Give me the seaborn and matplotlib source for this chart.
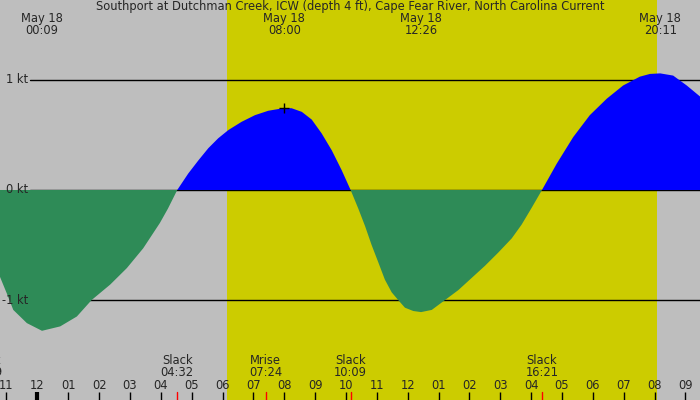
import matplotlib
matplotlib.use("Agg")
import matplotlib.pyplot as plt
import numpy as np
import pandas as pd
import seaborn as sns

# tidal current (hours after midnight May 18, knots)
flow_hours = [-1.21, -0.99, -0.78, -0.34, 0.15, 0.74, 1.28, 1.76, 2.36, 2.90, 3.43, 3.97, 4.23,
              4.533, 4.89, 5.22, 5.54, 5.86, 6.19, 6.62, 7.05, 7.48, 8.00, 8.24, 8.57, 8.89,
              9.21, 9.54, 9.86, 10.15, 10.40, 10.62, 10.83, 11.05, 11.26, 11.48, 11.69, 11.91,
              12.18, 12.433, 12.78, 13.21, 13.64, 14.07, 14.50, 14.93, 15.37, 15.69, 16.02,
              16.35, 16.83, 17.36, 17.90, 18.45, 18.98, 19.52, 19.85, 20.18, 20.60, 21.04, 21.47]
flow_knots = [-0.79, -0.94, -1.09, -1.21, -1.28, -1.24, -1.15, -1.00, -0.86, -0.71, -0.53, -0.30, -0.17,
              0.0, 0.15, 0.27, 0.38, 0.47, 0.545, 0.62, 0.68, 0.72, 0.745, 0.743, 0.71, 0.64,
              0.515, 0.36, 0.18, 0.0, -0.17, -0.33, -0.50, -0.66, -0.815, -0.93, -1.00, -1.07,
              -1.10, -1.11, -1.09, -1.00, -0.91, -0.80, -0.69, -0.57, -0.44, -0.315, -0.16,
              0.0, 0.24, 0.48, 0.68, 0.83, 0.95, 1.03, 1.055, 1.06, 1.04, 0.95, 0.85]

# max flood / ebb labels at the top
peak_hours = [0.15, 8.0, 12.433, 20.183]
peak_labels = ["00:09", "08:00", "12:26", "20:11"]

# slack / moonrise events at the bottom
event_hours = [-1.68, 4.533, 7.4, 10.15, 16.35]
event_names = ["Slack", "Slack", "Mrise", "Slack", "Slack"]
event_times = ["22:19", "04:32", "07:24", "10:09", "16:21"]

sunrise = 6.15
sunset = 20.07

hour_ticks = list(range(-1, 22))
kt_levels = [1, 0, -1]
kt_labels = ["1 kt", "0 kt", "-1 kt"]

xmin, xmax = -1.21, 21.47
ymin, ymax = -1.909, 1.727

df = pd.DataFrame({"hour": flow_hours, "knots": flow_knots})

sns.set_style("white")
plt.rcParams["font.family"] = ["DejaVu Sans"]
fs = 8.3

fig = plt.figure(figsize=(7, 4), dpi=100)
fig.patch.set_facecolor("#bebebe")
ax = fig.add_axes([0, 0, 1, 1])
ax.set_facecolor("#bebebe")
ax.set_xlim(xmin, xmax)
ax.set_ylim(ymin, ymax)
ax.axis("off")

# daylight band
ax.axvspan(sunrise, sunset, color="#cccc00", lw=0, zorder=0)

# knot reference lines
x_line = xmin + (xmax - xmin) * 30 / 700
for lev, lab in zip(kt_levels, kt_labels):
    ax.plot([x_line, xmax], [lev, lev], color="black", lw=1, zorder=1)
    ax.text(x_line - 0.06, lev, lab, ha="right", va="center", fontsize=fs, zorder=5)

# current fill
hrs = np.array(flow_hours)
kts = np.array(flow_knots)
ax.fill_between(hrs, kts, 0, where=kts >= 0, interpolate=True, color="#0000ff", lw=0, zorder=2)
ax.fill_between(hrs, kts, 0, where=kts <= 0, interpolate=True, color="#2e8b57", lw=0, zorder=2)
sns.lineplot(data=df, x="hour", y="knots", ax=ax, lw=0, legend=False)

# flood peak marker
ax.plot(8.0, 0.745, marker="+", color="black", ms=7, mew=1, zorder=4)

py = lambda p: ymax - p / 400 * (ymax - ymin)

ax.text(0.5 * (xmin + xmax), py(7),
        "Southport at Dutchman Creek, ICW (depth 4 ft), Cape Fear River, North Carolina Current",
        ha="center", va="center", fontsize=fs, zorder=5)

for h, lab in zip(peak_hours, peak_labels):
    ax.text(h, py(19), "May 18", ha="center", va="center", fontsize=fs, zorder=5)
    ax.text(h, py(31), lab, ha="center", va="center", fontsize=fs, zorder=5)

for h, nm, tm in zip(event_hours, event_names, event_times):
    ax.text(h, py(361), nm, ha="center", va="center", fontsize=fs, zorder=5)
    ax.text(h, py(373), tm, ha="center", va="center", fontsize=fs, zorder=5)
    ax.plot([h, h], [py(392), ymin], color="red", lw=1, zorder=4)

for h in hour_ticks:
    lab = "%02d" % ((h - 1) % 12 + 1)
    ax.text(h, py(385.5), lab, ha="center", va="center", fontsize=fs, zorder=5)
    ax.plot([h, h], [py(392), ymin], color="black", lw=3 if h == 0 else 1,
            solid_capstyle="butt", zorder=4)

fig.savefig("out.png", dpi=100, facecolor=fig.get_facecolor())
